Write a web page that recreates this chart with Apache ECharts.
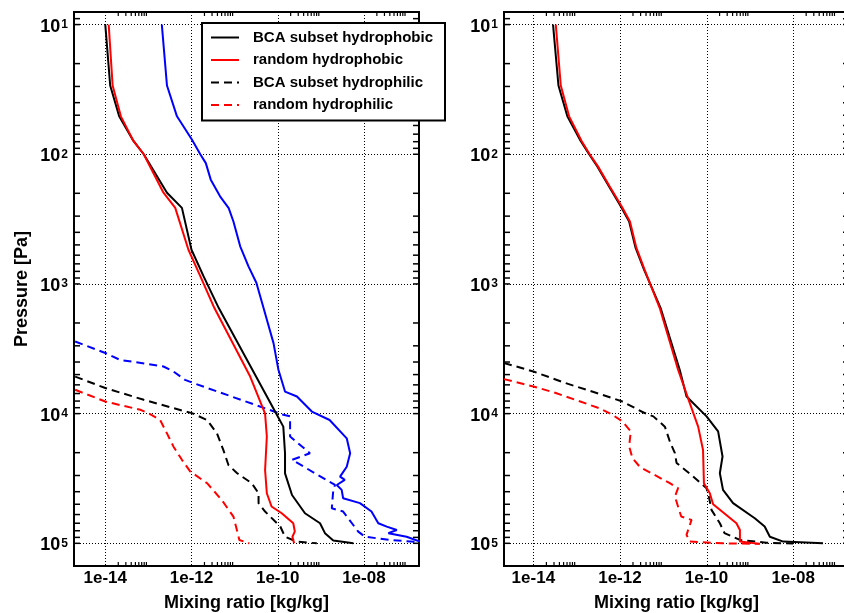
<!DOCTYPE html>
<html>
<head>
<meta charset="utf-8">
<script src="https://cdn.jsdelivr.net/npm/echarts@6/dist/echarts.min.js"></script>
<style>
html,body{margin:0;padding:0;background:#fff;}
#chart{width:844px;height:613px;}
</style>
</head>
<body>
<div id="chart"></div>
<script>
// ---------- DATA: [mixing ratio (kg/kg), pressure (Pa)] ----------
// Left panel
const leftBcaHydrophobic = [[1.0e-14,10],[1.3e-14,29.5],[2.1e-14,51],[4.5e-14,79],[7.8e-14,100],[2.7e-13,198],[6.0e-13,259],[1.0e-12,545],[1.9e-12,870],[4.3e-12,1535],[8.7e-11,9640],[1.35e-10,12600],[1.48e-10,20200],[1.48e-10,28900],[2.15e-10,42400],[4.3e-10,58600],[9.6e-10,70000],[1.25e-9,83500],[1.95e-9,95000],[5.7e-9,100000]];
const leftRandomHydrophobic = [[1.2e-14,10],[1.48e-14,29.5],[2.3e-14,51],[4.5e-14,79],[7.8e-14,100],[2.24e-13,198],[4.2e-13,259],[8.5e-13,545],[1.6e-12,870],[3.4e-12,1535],[2.3e-11,5180],[5.1e-11,10000],[5.6e-11,15000],[5.1e-11,27200],[5.6e-11,41100],[7.2e-11,52000],[1.24e-10,58600],[2.3e-10,70000],[2.5e-10,81000],[2.2e-10,89000],[2.4e-10,100000]];
const leftBcaHydrophilic = [[2e-15,5180],[1e-14,6350],[7.8e-14,7820],[3.8e-13,9070],[1.02e-12,9910],[2.3e-12,11200],[3.9e-12,14200],[5.5e-12,19100],[7.2e-12,24900],[1.13e-11,28700],[2.5e-11,34400],[3.6e-11,41100],[3.6e-11,49000],[5.1e-11,56900],[1.15e-10,74200],[1.48e-10,89000],[2.75e-10,97000],[8.1e-10,100000]];
const leftRandomHydrophilic = [[2e-15,6550],[1e-14,8070],[6.5e-14,9340],[1.0e-13,9910],[1.87e-13,11200],[2.7e-13,14200],[3.8e-13,17900],[6.0e-13,22700],[9.3e-13,27900],[2.3e-12,34400],[5.0e-12,46200],[9.4e-12,62200],[1.13e-11,79000],[1.29e-11,94200],[2.2e-11,100000]];
const leftBlueSolid = [[2.05e-13,10],[2.7e-13,29.5],[4.6e-13,51],[1.02e-12,77],[1.6e-12,100],[2.15e-12,117],[2.8e-12,157],[4.6e-12,211],[7.3e-12,260],[9.4e-12,330],[1.35e-11,513],[2.1e-11,732],[3.2e-11,980],[4.7e-11,1535],[8e-11,2860],[1.04e-10,4590],[1.48e-10,6760],[2.8e-10,7380],[6.2e-10,9640],[1.6e-9,11200],[4.0e-9,15500],[4.8e-9,20200],[4.0e-9,25700],[2.8e-9,30600],[3.6e-9,32400],[2.35e-9,35500],[3.05e-9,38700],[3.3e-9,44900],[8.1e-9,49000],[1.5e-8,56900],[2.16e-8,70000],[3.4e-8,74300],[5.8e-8,79000],[3.7e-8,83500],[9.8e-8,89000],[2.0e-7,97000]];
const leftBlueDashed = [[2.0e-15,2780],[1.0e-14,3410],[2.2e-14,3850],[2.24e-13,4330],[3.8e-13,4730],[7.1e-13,5490],[1.12e-12,5820],[1.35e-10,10200],[1.94e-10,10500],[1.94e-10,15000],[5.6e-10,20200],[2.15e-10,22700],[2.14e-9,35500],[1.95e-9,38700],[1.8e-9,53700],[3.3e-9,56900],[7.4e-9,81300],[1.06e-8,89000],[4.0e-8,94200],[2.0e-7,98000]];
// Right panel
const rightBcaHydrophobic = [[2.85e-14,10],[3.8e-14,29.5],[6.1e-14,51],[1.24e-13,79],[1.94e-13,100],[3.0e-13,124],[5.6e-13,177],[1.05e-12,253],[1.63e-12,330],[2.3e-12,528],[3.6e-12,776],[8.7e-12,1535],[2.4e-11,4590],[3.45e-11,7380],[1e-10,10500],[1.85e-10,13700],[2.34e-10,21400],[2.03e-10,28800],[2.4e-10,38700],[4.1e-10,49000],[1.3e-9,64100],[2.2e-9,74200],[2.9e-9,89000],[5.9e-9,97000],[4.9e-8,100000]];
const rightRandomHydrophobic = [[3.3e-14,10],[4.3e-14,29.5],[6.7e-14,51],[1.3e-13,79],[2.0e-13,100],[3.1e-13,124],[5.8e-13,177],[1.1e-12,253],[1.7e-12,330],[2.4e-12,528],[3.7e-12,776],[8.3e-12,1535],[2.2e-11,4590],[4.1e-11,8310],[6.4e-11,12600],[8.3e-11,19100],[8.7e-11,34400],[1.19e-10,41100],[1.42e-10,50000],[4.9e-10,70000],[5.9e-10,79000],[5.9e-10,97000],[1.7e-9,101000]];
const rightBcaHydrophilic = [[2.1e-15,4070],[5.6e-15,4470],[1e-14,4730],[5.6e-14,5820],[3.9e-13,7160],[1.14e-12,8070],[3.5e-12,9800],[5.9e-12,10500],[1.09e-11,12600],[1.42e-11,16400],[1.86e-11,20200],[2.03e-11,24000],[4.9e-11,30500],[1e-10,37600],[1.15e-10,44900],[1.3e-10,55200],[2.03e-10,70000],[2.6e-10,83500],[5.9e-10,94200],[2.4e-9,99000],[1e-8,100500]];
const rightRandomHydrophilic = [[2.1e-15,5420],[1e-14,6170],[3.3e-14,6930],[3.3e-13,9070],[6.7e-13,10200],[1.14e-12,11500],[1.78e-12,13700],[1.63e-12,17900],[1.94e-12,22000],[2.9e-12,25800],[1.42e-11,34400],[2.2e-11,37600],[1.86e-11,43600],[2.6e-11,62200],[4.5e-11,66000],[3.45e-11,86000],[4.1e-11,97000],[2.4e-10,100000],[1.7e-9,101000]];

const legendNames = ['BCA subset hydrophobic','random hydrophobic','BCA subset hydrophilic','random hydrophilic'];
const xTickMajor = [1e-14,1e-12,1e-10,1e-8];
const xTickMinor = [2e-14,3e-14,4e-14,5e-14,6e-14,7e-14,8e-14,9e-14,2e-12,3e-12,4e-12,5e-12,6e-12,7e-12,8e-12,9e-12,2e-10,3e-10,4e-10,5e-10,6e-10,7e-10,8e-10,9e-10,2e-8,3e-8,4e-8,5e-8,6e-8,7e-8,8e-8,9e-8];
const yTickAll = [8,9,10,20,30,40,50,60,70,80,90,100,200,300,400,500,600,700,800,900,1000,2000,3000,4000,5000,6000,7000,8000,9000,10000,20000,30000,40000,50000,60000,70000,80000,90000,100000];

const FONT = '"Liberation Sans", Arial, Helvetica, sans-serif';
const DASH = [8,5];

function xFmt(v){
  const e = Math.log10(v); const r = Math.round(e);
  if (Math.abs(e-r) > 1e-6) return '';
  if (xTickMajor.every(t => Math.abs(Math.log10(t) - r) > 1e-6)) return '';
  const n = Math.abs(r);
  return '1e' + (r<0?'-':'+') + (n<10?'0':'') + n;
}
function yFmt(v){
  const e = Math.log10(v); const r = Math.round(e);
  if (Math.abs(e-r) > 1e-6) return '';
  return '{b|10}{s|' + r + '}';
}

function makeX(gridIndex, min, max){
  return {
    type:'log', gridIndex, min, max, logBase:10,
    name:'Mixing ratio [kg/kg]', nameLocation:'middle', nameGap:28,
    nameTextStyle:{fontFamily:FONT, fontWeight:'bold', fontSize:18, color:'#000'},
    axisLine:{show:true, onZero:false, lineStyle:{color:'#000', width:2}},
    axisTick:{show:false},
    minorTick:{show:false},
    axisLabel:{formatter:xFmt, fontFamily:FONT, fontWeight:'bold', fontSize:17, color:'#000', margin:4, showMinLabel:false, showMaxLabel:false},
    splitLine:{show:false}
  };
}
function makeY(gridIndex, withName){
  return {
    type:'log', gridIndex, min:8, max:149600, inverse:true, logBase:10,
    name: withName ? 'Pressure [Pa]' : '', nameLocation:'middle', nameGap:43, nameRotate:90,
    nameTextStyle:{fontFamily:FONT, fontWeight:'bold', fontSize:18, color:'#000'},
    axisLine:{show:true, onZero:false, lineStyle:{color:'#000', width:2}},
    axisTick:{show:false},
    minorTick:{show:false},
    axisLabel:{formatter:yFmt, margin:6, showMinLabel:false, showMaxLabel:false,
      rich:{
        b:{fontFamily:FONT, fontWeight:'bold', fontSize:18, color:'#000', lineHeight:22, padding:[8,0,0,0], verticalAlign:'bottom'},
        s:{fontFamily:FONT, fontWeight:'bold', fontSize:12, color:'#000', lineHeight:12, padding:[5,0,0,1], verticalAlign:'top'}
      }},
    splitLine:{show:true, lineStyle:{color:'#000', width:1, type:[1,2]}}
  };
}

function yTickSeries(idx){
  return {
    type:'custom', xAxisIndex:idx, yAxisIndex:idx, silent:true, clip:false, z:5,
    data: yTickAll.map(p => [1e-12, p]),
    renderItem:function(params, api){
      const cs = params.coordSys;
      const y = api.coord([api.value(0), api.value(1)])[1];
      const st = {stroke:'#000', lineWidth:1.5};
      return {type:'group', children:[
        {type:'line', shape:{x1:cs.x, y1:y, x2:cs.x+6, y2:y}, style:st},
        {type:'line', shape:{x1:cs.x+cs.width, y1:y, x2:cs.x+cs.width-6, y2:y}, style:st}
      ]};
    }
  };
}
function xTickSeries(idx){
  return {
    type:'custom', xAxisIndex:idx, yAxisIndex:idx, silent:true, clip:false, z:5,
    data: xTickMinor.map(v => [v, 1000]),
    renderItem:function(params, api){
      const cs = params.coordSys;
      const x = api.coord([api.value(0), api.value(1)])[0];
      const st = {stroke:'#000', lineWidth:1.2};
      return {type:'group', children:[
        {type:'line', shape:{x1:x, y1:cs.y, x2:x, y2:cs.y+4}, style:st},
        {type:'line', shape:{x1:x, y1:cs.y+cs.height, x2:x, y2:cs.y+cs.height-4}, style:st}
      ]};
    }
  };
}
function xGridSeries(idx){
  return {
    type:'custom', xAxisIndex:idx, yAxisIndex:idx, silent:true, clip:false, z:1,
    data: xTickMajor.map(v => [v, 1000]),
    renderItem:function(params, api){
      const cs = params.coordSys;
      const x = Math.round(api.coord([api.value(0), api.value(1)])[0]) + 0.5;
      return {type:'line', shape:{x1:x, y1:cs.y, x2:x, y2:cs.y+cs.height},
        style:{stroke:'#000', lineWidth:1, lineDash:[1,2]}};
    }
  };
}
function lineSeries(name, data, idx, color, dashed, z){
  return {
    name, type:'line', data, xAxisIndex:idx, yAxisIndex:idx,
    symbol:'none', showSymbol:false, smooth:false, clip:true, z:z||2,
    lineStyle:{color, width:2, type: dashed ? DASH : 'solid'},
    itemStyle:{color}
  };
}

const chart = echarts.init(document.getElementById('chart'), null, {renderer:'canvas'});
chart.setOption({
  animation:false,
  backgroundColor:'#fff',
  grid:[
    {left:74, top:12, width:345, height:554, show:true, borderColor:'#000', borderWidth:2, backgroundColor:'transparent', containLabel:false, outerBoundsMode:'none'},
    {left:504, top:12, width:345, height:554, show:true, borderColor:'#000', borderWidth:2, backgroundColor:'transparent', containLabel:false, outerBoundsMode:'none'}
  ],
  xAxis:[ makeX(0, 1.88e-15, 1.9e-7), makeX(1, 2.1e-15, 1.95e-7) ],
  yAxis:[ makeY(0, true), makeY(1, false) ],
  legend:{
    data: legendNames.map(n => ({name:n})),
    orient:'vertical', left:202, top:23,
    itemWidth:28, itemHeight:14, itemGap:7.5,
    padding:[7,12,8,8],
    backgroundColor:'#fff', borderColor:'#000', borderWidth:2, borderRadius:0,
    itemStyle:{opacity:0},
    textStyle:{fontFamily:FONT, fontWeight:'bold', fontSize:15, color:'#000', lineHeight:14, padding:[0,0,0,9]},
    selectedMode:false, z:20
  },
  series:[
    xGridSeries(0), xGridSeries(1),
    lineSeries('blue solid', leftBlueSolid, 0, '#0000ff', false),
    lineSeries('blue dashed', leftBlueDashed, 0, '#0000ff', true),
    lineSeries(legendNames[2], leftBcaHydrophilic, 0, '#000000', true),
    lineSeries(legendNames[3], leftRandomHydrophilic, 0, '#ff0000', true),
    lineSeries(legendNames[0], leftBcaHydrophobic, 0, '#000000', false),
    lineSeries(legendNames[1], leftRandomHydrophobic, 0, '#ff0000', false),
    lineSeries(legendNames[2], rightBcaHydrophilic, 1, '#000000', true),
    lineSeries(legendNames[3], rightRandomHydrophilic, 1, '#ff0000', true),
    lineSeries(legendNames[0], rightBcaHydrophobic, 1, '#000000', false),
    lineSeries(legendNames[1], rightRandomHydrophobic, 1, '#ff0000', false),
    yTickSeries(0), yTickSeries(1), xTickSeries(0), xTickSeries(1)
  ]
});
</script>
</body>
</html>
